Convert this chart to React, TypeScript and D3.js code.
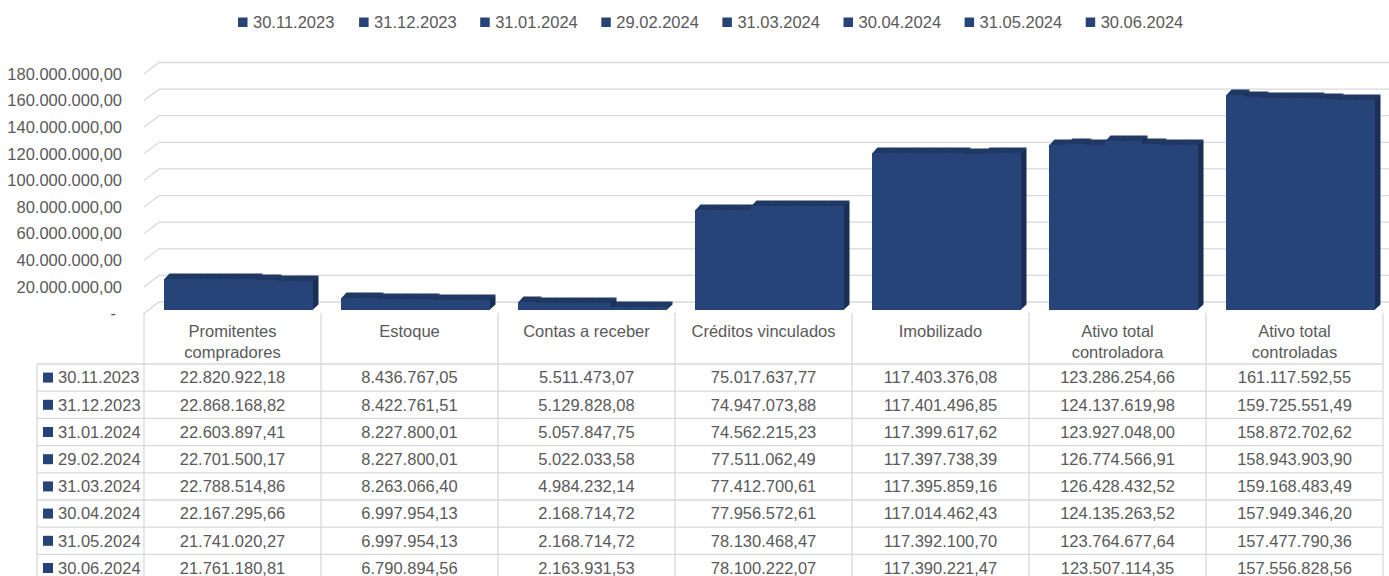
import React, { useRef, useEffect } from 'react';
import * as d3 from 'd3';

const categories = [
  'Promitentes compradores',
  'Estoque',
  'Contas a receber',
  'Créditos vinculados',
  'Imobilizado',
  'Ativo total controladora',
  'Ativo total controladas',
];

const dates = [
  '30.11.2023', '31.12.2023', '31.01.2024', '29.02.2024',
  '31.03.2024', '30.04.2024', '31.05.2024', '30.06.2024',
];

const v20231130 = [22820922.18, 8436767.05, 5511473.07, 75017637.77, 117403376.08, 123286254.66, 161117592.55];
const v20231231 = [22868168.82, 8422761.51, 5129828.08, 74947073.88, 117401496.85, 124137619.98, 159725551.49];
const v20240131 = [22603897.41, 8227800.01, 5057847.75, 74562215.23, 117399617.62, 123927048.0, 158872702.62];
const v20240229 = [22701500.17, 8227800.01, 5022033.58, 77511062.49, 117397738.39, 126774566.91, 158943903.9];
const v20240331 = [22788514.86, 8263066.4, 4984232.14, 77412700.61, 117395859.16, 126428432.52, 159168483.49];
const v20240430 = [22167295.66, 6997954.13, 2168714.72, 77956572.61, 117014462.43, 124135263.52, 157949346.2];
const v20240531 = [21741020.27, 6997954.13, 2168714.72, 78130468.47, 117392100.7, 123764677.64, 157477790.36];
const v20240630 = [21761180.81, 6790894.56, 2163931.53, 78100222.07, 117390221.47, 123507114.35, 157556828.56];

const seriesValues = [v20231130, v20231231, v20240131, v20240229, v20240331, v20240430, v20240531, v20240630];

const yTicks = [0, 20e6, 40e6, 60e6, 80e6, 100e6, 120e6, 140e6, 160e6, 180e6];

const W = 1389;
const H = 576;
const FONT = '"Liberation Sans", Arial, sans-serif';
const TEXT = '#595959';
const GRID = '#d9d9d9';
const FRONT = '#264478';
const TOP = '#1f3864';
const SIDE = '#1a2f55';

const ptBR = d3.formatLocale({ decimal: ',', thousands: '.', grouping: [3], currency: ['', ''] });
const fmt = ptBR.format(',.2f');

const wrap = (s: string, max = 20) => {
  const lines: string[] = [];
  let cur = '';
  s.split(' ').forEach(w => {
    const next = cur ? cur + ' ' + w : w;
    if (next.length > max && cur) {
      lines.push(cur);
      cur = w;
    } else cur = next;
  });
  if (cur) lines.push(cur);
  return lines;
};

const Chart = () => {
  const svgRef = useRef<SVGSVGElement>(null);

  useEffect(() => {
    const svg = d3.select(svgRef.current);
    svg.selectAll('*').remove();
    svg.attr('font-family', FONT);

    const x = d3.scaleBand().domain(categories).range([144, 1383]).padding(0);
    const xs = d3.scaleBand().domain(dates).range([19.5, 169]).padding(0);
    const y = d3.scaleLinear().domain([0, 180e6]).range([313.5, 74]);

    // 3D offsets
    const wallDx = 15, wallDy = -11.5;
    const barDy = -4;
    const depthDx = 5.5, depthDy = -5.5;

    // legend
    const leg = svg.append('g');
    dates.forEach((d, i) => {
      const lx = 238 + i * 121.1;
      leg.append('rect').attr('x', lx).attr('y', 17.5).attr('width', 9.5).attr('height', 9.5).attr('fill', FRONT);
      leg.append('text').attr('x', lx + 15).attr('y', 22.5).attr('dy', '0.35em')
        .attr('font-size', 16.5).attr('fill', TEXT).text(d);
    });

    // gridlines: side wall slants + back wall
    const grid = svg.append('g').attr('stroke', GRID).attr('stroke-width', 1.3).attr('fill', 'none');
    yTicks.forEach(t => {
      const yy = y(t);
      grid.append('path').attr('d', `M${144},${yy} L${144 + wallDx},${yy + wallDy} L${W},${yy + wallDy}`);
    });

    // y axis labels
    svg.append('g').selectAll('text').data(yTicks).join('text')
      .attr('x', d => (d === 0 ? 116 : 122))
      .attr('y', d => y(d))
      .attr('dy', '0.35em')
      .attr('text-anchor', 'end')
      .attr('font-size', 16.5)
      .attr('fill', TEXT)
      .text(d => (d === 0 ? '-' : fmt(d)));

    // bars, drawn left to right so each front face hides the previous side face
    const bars = svg.append('g');
    categories.forEach((c, ci) => {
      dates.forEach((d, si) => {
        const v = seriesValues[si][ci];
        const x0 = Math.round((x(c) as number) + (xs(d) as number));
        const x1 = Math.round((x(c) as number) + (xs(d) as number) + xs.bandwidth());
        const yb = Math.round(y(0) + barDy);
        const yt = Math.round(y(v) + barDy);
        bars.append('path')
          .attr('d', `M${x0},${yt + 0.5} L${x0 + depthDx},${yt + depthDy} L${x1 + depthDx},${yt + depthDy} L${x1},${yt + 0.5} Z`)
          .attr('fill', TOP);
        bars.append('path')
          .attr('d', `M${x1 - 0.5},${yt} L${x1 + depthDx},${yt + depthDy} L${x1 + depthDx},${yb + depthDy} L${x1 - 0.5},${yb} Z`)
          .attr('fill', SIDE);
        bars.append('rect').attr('x', x0).attr('y', yt).attr('width', x1 - x0).attr('height', yb - yt)
          .attr('fill', FRONT).attr('shape-rendering', 'crispEdges');
      });
    });

    // data table
    const rowTop = 364;
    const rowH = 27.2;
    const tbl = svg.append('g');
    const lines = tbl.append('g').attr('stroke', GRID).attr('stroke-width', 1.3);
    const bandEdges = categories.map(c => x(c) as number).concat([x.range()[1]]);
    bandEdges.forEach(ex => {
      lines.append('line').attr('x1', ex).attr('x2', ex).attr('y1', 313).attr('y2', H);
    });
    lines.append('line').attr('x1', 37).attr('x2', 37).attr('y1', rowTop).attr('y2', H);
    dates.forEach((d, i) => {
      const ry = rowTop + i * rowH;
      lines.append('line').attr('x1', 37).attr('x2', 1383).attr('y1', ry).attr('y2', ry);
    });

    // header labels
    categories.forEach(c => {
      const cx = (x(c) as number) + x.bandwidth() / 2;
      wrap(c).forEach((ln, li) => {
        tbl.append('text').attr('x', cx).attr('y', 331 + li * 21.5).attr('dy', '0.35em')
          .attr('text-anchor', 'middle').attr('font-size', 16.5).attr('fill', TEXT).text(ln);
      });
    });

    // rows
    dates.forEach((d, si) => {
      const cy = rowTop + si * rowH + rowH / 2;
      tbl.append('rect').attr('x', 43).attr('y', cy - 5).attr('width', 10).attr('height', 10).attr('fill', FRONT);
      tbl.append('text').attr('x', 58).attr('y', cy).attr('dy', '0.35em')
        .attr('font-size', 16.5).attr('fill', TEXT).text(d);
      categories.forEach((c, ci) => {
        tbl.append('text').attr('x', (x(c) as number) + x.bandwidth() / 2).attr('y', cy).attr('dy', '0.35em')
          .attr('text-anchor', 'middle').attr('font-size', 16.5).attr('fill', TEXT)
          .text(fmt(seriesValues[si][ci]));
      });
    });
  }, []);

  return (
    <svg ref={svgRef} width={W} height={H}
      style={{ position: 'absolute', left: 0, top: 0, background: '#fff', display: 'block' }} />
  );
};

export default function App() {
  return <Chart />;
}
